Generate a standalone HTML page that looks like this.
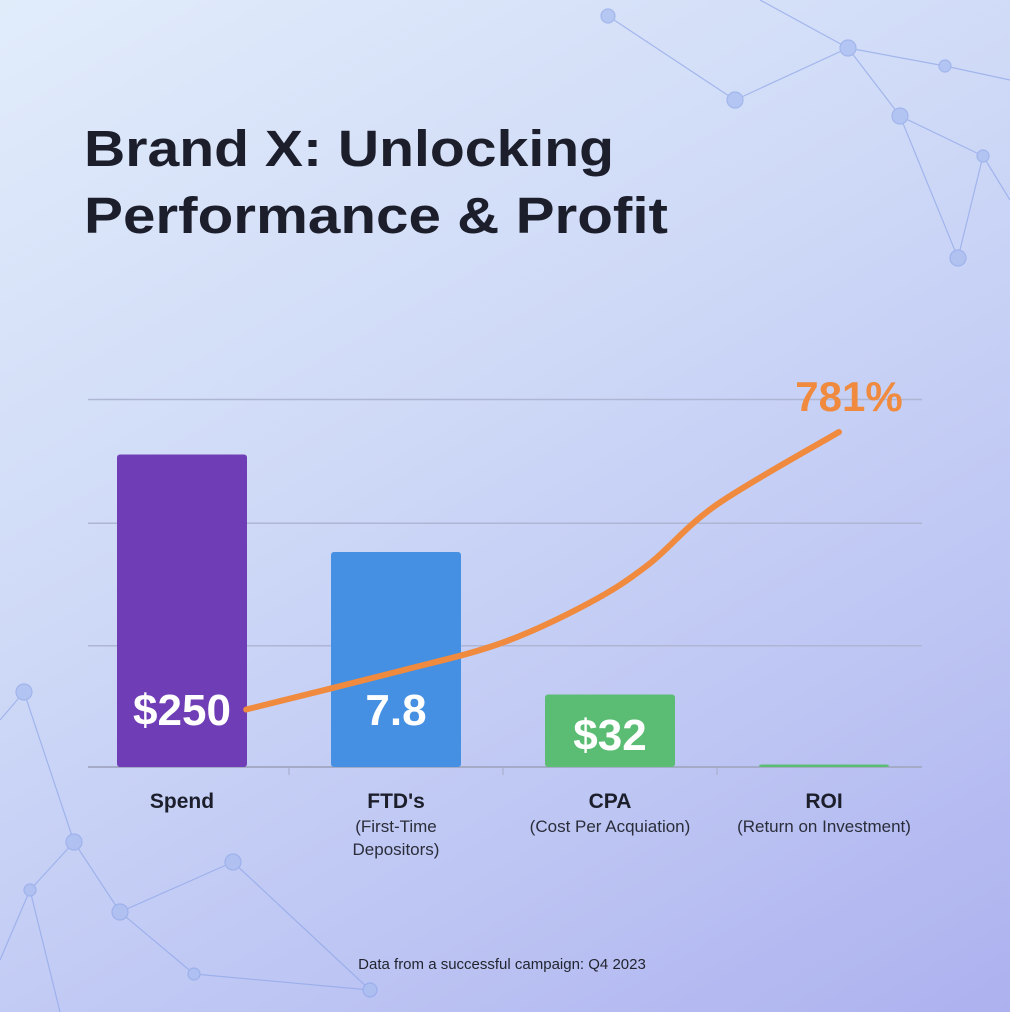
<!DOCTYPE html>
<html><head><meta charset="utf-8"><style>
html,body{margin:0;padding:0}
body{width:1010px;height:1012px;overflow:hidden;background:linear-gradient(150deg,#e1ecfb 0%,#cfdaf7 40%,#bcc4f3 75%,#adb1ef 100%);font-family:"Liberation Sans",sans-serif;position:relative}
svg{position:absolute;left:0;top:0}
</style></head><body>
<svg width="1010" height="1012">
<g id="net" stroke="#8fa6e8" stroke-width="1.2" fill="#a7bcf0" opacity="0.7">
<line x1="608" y1="16" x2="735" y2="100"/><line x1="735" y1="100" x2="848" y2="48"/><line x1="848" y1="48" x2="945" y2="66"/><line x1="848" y1="48" x2="900" y2="116"/><line x1="900" y1="116" x2="983" y2="156"/><line x1="983" y1="156" x2="958" y2="258"/><line x1="900" y1="116" x2="958" y2="258"/><line x1="945" y1="66" x2="1010" y2="80"/><line x1="760" y1="0" x2="848" y2="48"/><line x1="983" y1="156" x2="1010" y2="200"/>
<circle cx="608" cy="16" r="7"/><circle cx="735" cy="100" r="8"/><circle cx="848" cy="48" r="8"/><circle cx="945" cy="66" r="6"/><circle cx="900" cy="116" r="8"/><circle cx="983" cy="156" r="6"/><circle cx="958" cy="258" r="8"/>
<line x1="24" y1="692" x2="0" y2="720"/><line x1="24" y1="692" x2="74" y2="842"/><line x1="74" y1="842" x2="30" y2="890"/><line x1="74" y1="842" x2="120" y2="912"/><line x1="120" y1="912" x2="233" y2="862"/><line x1="120" y1="912" x2="194" y2="974"/><line x1="30" y1="890" x2="0" y2="960"/><line x1="194" y1="974" x2="370" y2="990"/><line x1="233" y1="862" x2="370" y2="990"/><line x1="30" y1="890" x2="60" y2="1012"/>
<circle cx="24" cy="692" r="8"/><circle cx="74" cy="842" r="8"/><circle cx="30" cy="890" r="6"/><circle cx="120" cy="912" r="8"/><circle cx="233" cy="862" r="8"/><circle cx="194" cy="974" r="6"/><circle cx="370" cy="990" r="7"/>
</g>
<text x="84" y="166" font-size="51" font-weight="bold" fill="#1c1f2b" textLength="530" lengthAdjust="spacingAndGlyphs">Brand X: Unlocking</text>
<text x="84" y="233" font-size="51" font-weight="bold" fill="#1c1f2b" textLength="584" lengthAdjust="spacingAndGlyphs">Performance &amp; Profit</text>
<g id="grid"></g><g id="bars"></g><g id="line"></g><g id="labels"></g>
<text x="502" y="969" font-size="15" fill="#22252f" text-anchor="middle">Data from a successful campaign: Q4 2023</text>
</svg>
<script>
const categories=["Spend","FTD's","CPA","ROI"];
const subtitles=[[],["(First-Time","Depositors)"],["(Cost Per Acquiation)"],["(Return on Investment)"]];
const barValues=[250,172,58,2];
const barLabels=["$250","7.8","$32",""];
const barColors=["#6f3db5","#4590e3","#5bbd74","#5bbd74"];
const gridTicks=[0,97,195,294];
const lineX=[0.3,1.0,1.49,1.9,2.18,2.5,3.07];
const lineY=[46,76,99,131,162,210,268];
const roiLabel="781%";
const NS="http://www.w3.org/2000/svg";
const x0=182,step=214,base=767,k=1.25,bw=130,left=88,right=922;
const xs=i=>x0+i*step, ys=v=>base-v*k;
function mk(t,a,p){const e=document.createElementNS(NS,t);for(const n in a)e.setAttribute(n,a[n]);p.appendChild(e);return e;}
const G=document.getElementById('grid');
gridTicks.forEach((t,i)=>{const l=mk('line',{x1:left,x2:right,y1:ys(t),y2:ys(t),stroke:i==0?'#a4abc6':'#aeb6d4','stroke-width':i==0?2:1.5},G);

});
for(let i=1;i<4;i++){const l=mk('line',{x1:xs(i)-step/2,x2:xs(i)-step/2,y1:base,y2:base+8,stroke:'#a4abc6'},G);

}
const B=document.getElementById('bars'),L=document.getElementById('labels');
categories.forEach((c,i)=>{
const h=barValues[i]*k;
const r=mk('rect',{x:xs(i)-bw/2,y:base-h,width:bw,height:h,rx:3,fill:barColors[i]},B);


if(barLabels[i]){const t=mk('text',{x:xs(i),y:(i==2?base-17:base-42),'font-size':44,'font-weight':'bold',fill:'#fff','text-anchor':'middle'},L);t.textContent=barLabels[i];

}
const cl=mk('text',{x:xs(i),y:808,'font-size':21,'font-weight':'bold',fill:'#1c1f2b','text-anchor':'middle'},L);cl.textContent=c;


subtitles[i].forEach((s,j)=>{const st=mk('text',{x:xs(i),y:832+j*23,'font-size':17,fill:'#2a2d3a','text-anchor':'middle'},L);st.textContent=s;

});
});
const P=lineX.map((x,i)=>[xs(x),ys(lineY[i])]);
let d='M'+P[0][0]+','+P[0][1];
for(let i=0;i<P.length-1;i++){const p0=P[Math.max(0,i-1)],p1=P[i],p2=P[i+1],p3=P[Math.min(P.length-1,i+2)];
d+=` C${p1[0]+(p2[0]-p0[0])/6},${p1[1]+(p2[1]-p0[1])/6} ${p2[0]-(p3[0]-p1[0])/6},${p2[1]-(p3[1]-p1[1])/6} ${p2[0]},${p2[1]}`;}
const ln=mk('path',{d:d,fill:'none',stroke:'#ef8a3e','stroke-width':6,'stroke-linecap':'round'},document.getElementById('line'));


const rl=mk('text',{x:P[P.length-1][0]+10,y:P[P.length-1][1]-21,'font-size':42,'font-weight':'bold',fill:'#ef8a3e','text-anchor':'middle'},L);rl.textContent=roiLabel;


</script>
</body></html>
